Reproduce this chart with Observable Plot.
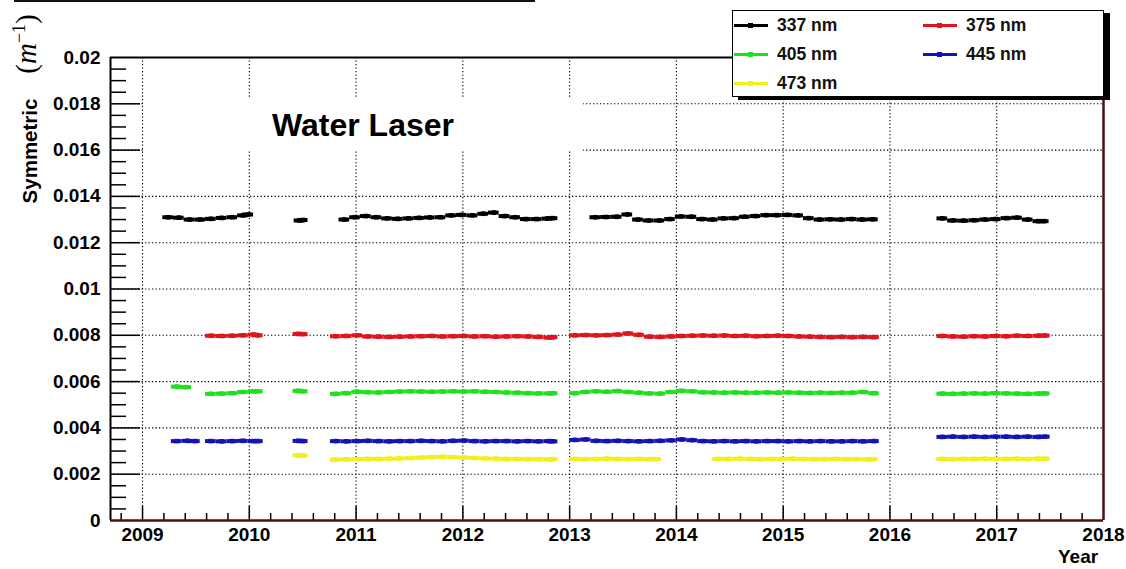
<!DOCTYPE html>
<html>
<head>
<meta charset="utf-8">
<script src="https://cdn.jsdelivr.net/npm/d3@7"></script>
<script src="https://cdn.jsdelivr.net/npm/@observablehq/plot@0.6"></script>
<style>
  body { margin: 0; background: #fff; }
  #wrap { position: relative; width: 1126px; height: 569px; overflow: hidden;
          font-family: "Liberation Sans", Arial, sans-serif; font-weight: bold; color: #000; }
  #wrap svg { position: absolute; left: 0; top: 0; }
  .abs { position: absolute; white-space: nowrap; }
  #topline { left: 14px; top: 0; width: 521px; height: 2px; background: #111; }
  #ytitle { left: 30px; top: 151px; font-size: 20.5px; transform: translate(-50%, -50%) rotate(-90deg); }
  #yunit { left: 26px; top: 44px; font-family: "Liberation Serif", "DejaVu Serif", serif; font-weight: normal;
           font-size: 29px; transform: translate(-50%, -50%) rotate(-90deg); }
  #yunit sup { font-size: 18px; font-style: normal; vertical-align: 11px; }
  #titlebox { left: 145px; top: 97px; width: 438px; height: 54px; background: #fff; }
  #title { left: 272px; top: 109px; font-size: 32px; line-height: 32px; }
  #xtitle { left: 1058px; top: 547px; font-size: 19px; line-height: 19px; }
  #legend { left: 732px; top: 10px; width: 372px; height: 87px; box-sizing: border-box;
            border: 1px solid #000; background: #fff; box-shadow: 6px 3px 0 #000; }
  .lg-line { position: absolute; width: 34px; height: 3px; }
  .lg-dot { position: absolute; width: 5px; height: 5px; left: 14px; top: -1px; }
  .lg-text { position: absolute; font-size: 17.5px; line-height: 18px; color: #111; }
</style>
</head>
<body>
<div id="wrap"></div>
<script>
// Water laser: symmetric scattering coefficient per wavelength, by year
const wavelengths = ["337 nm", "375 nm", "405 nm", "445 nm", "473 nm"];
const colors = ["#000000", "#e0141e", "#1fe01f", "#1414b4", "#f0f01e"];

// [decimal year, coefficient in 1/m]
const s337 = [
  [2009.24,0.01310],[2009.34,0.01308],[2009.44,0.01300],[2009.54,0.01300],[2009.64,0.01303],[2009.74,0.01307],[2009.84,0.01310],[2009.94,0.01318],[2009.99,0.01322],
  [2010.47,0.01296],[2010.50,0.01298],
  [2010.89,0.01300],[2010.99,0.01310],[2011.09,0.01315],[2011.19,0.01310],[2011.29,0.01305],[2011.39,0.01303],[2011.49,0.01305],[2011.59,0.01307],[2011.69,0.01309],[2011.79,0.01310],
  [2011.89,0.01318],[2011.99,0.01320],[2012.09,0.01318],[2012.19,0.01325],[2012.29,0.01330],[2012.39,0.01315],[2012.49,0.01310],[2012.59,0.01302],[2012.69,0.01302],[2012.79,0.01304],[2012.84,0.01306],
  [2013.24,0.01310],[2013.34,0.01311],[2013.44,0.01312],[2013.54,0.01322],[2013.64,0.01300],[2013.74,0.01296],[2013.84,0.01296],[2013.94,0.01302],[2014.04,0.01313],[2014.14,0.01312],
  [2014.24,0.01302],[2014.34,0.01300],[2014.44,0.01305],[2014.54,0.01306],[2014.64,0.01312],[2014.74,0.01315],[2014.84,0.01319],[2014.94,0.01319],[2015.04,0.01320],[2015.14,0.01318],
  [2015.24,0.01306],[2015.34,0.01300],[2015.44,0.01301],[2015.54,0.01300],[2015.64,0.01302],[2015.74,0.01300],[2015.84,0.01301],
  [2016.49,0.01305],[2016.59,0.01296],[2016.69,0.01295],[2016.79,0.01297],[2016.89,0.01300],[2016.99,0.01302],[2017.09,0.01306],[2017.19,0.01308],[2017.29,0.01300],[2017.39,0.01293],[2017.44,0.01293]
];

const s375 = [
  [2009.64,0.00798],[2009.74,0.00797],[2009.84,0.00798],[2009.94,0.00800],[2010.04,0.00803],[2010.08,0.00800],
  [2010.46,0.00806],[2010.50,0.00805],
  [2010.81,0.00796],[2010.91,0.00797],[2011.01,0.00800],[2011.11,0.00795],[2011.21,0.00794],[2011.31,0.00793],[2011.41,0.00794],[2011.51,0.00795],[2011.61,0.00796],[2011.71,0.00797],[2011.81,0.00795],
  [2011.91,0.00796],[2012.01,0.00797],[2012.11,0.00795],[2012.21,0.00796],[2012.31,0.00794],[2012.41,0.00795],[2012.51,0.00796],[2012.61,0.00795],[2012.71,0.00793],[2012.81,0.00790],[2012.84,0.00792],
  [2013.05,0.00800],[2013.15,0.00801],[2013.25,0.00800],[2013.35,0.00801],[2013.45,0.00803],[2013.55,0.00808],[2013.65,0.00802],[2013.75,0.00794],[2013.85,0.00793],[2013.95,0.00795],
  [2014.05,0.00797],[2014.15,0.00798],[2014.25,0.00799],[2014.35,0.00798],[2014.45,0.00799],[2014.55,0.00797],[2014.65,0.00798],[2014.75,0.00796],[2014.85,0.00797],[2014.95,0.00798],
  [2015.05,0.00797],[2015.15,0.00795],[2015.25,0.00794],[2015.35,0.00793],[2015.45,0.00792],[2015.55,0.00793],[2015.65,0.00792],[2015.75,0.00793],[2015.85,0.00792],
  [2016.49,0.00797],[2016.59,0.00795],[2016.69,0.00794],[2016.79,0.00796],[2016.89,0.00795],[2016.99,0.00797],[2017.09,0.00796],[2017.19,0.00798],[2017.29,0.00797],[2017.39,0.00798],[2017.45,0.00799]
];

const s405 = [
  [2009.32,0.00578],[2009.41,0.00576],
  [2009.64,0.00547],[2009.74,0.00548],[2009.84,0.00550],[2009.94,0.00555],[2010.04,0.00558],[2010.08,0.00558],
  [2010.46,0.00560],[2010.50,0.00558],
  [2010.81,0.00547],[2010.91,0.00550],[2011.01,0.00556],[2011.11,0.00554],[2011.21,0.00553],[2011.31,0.00555],[2011.41,0.00557],[2011.51,0.00558],[2011.61,0.00557],[2011.71,0.00556],[2011.81,0.00557],
  [2011.91,0.00558],[2012.01,0.00557],[2012.11,0.00558],[2012.21,0.00556],[2012.31,0.00555],[2012.41,0.00553],[2012.51,0.00552],[2012.61,0.00550],[2012.71,0.00549],[2012.81,0.00549],[2012.84,0.00550],
  [2013.05,0.00550],[2013.15,0.00555],[2013.25,0.00558],[2013.35,0.00556],[2013.45,0.00559],[2013.55,0.00555],[2013.65,0.00552],[2013.75,0.00549],[2013.85,0.00548],[2013.95,0.00555],
  [2014.05,0.00560],[2014.15,0.00558],[2014.25,0.00554],[2014.35,0.00553],[2014.45,0.00552],[2014.55,0.00553],[2014.65,0.00552],[2014.75,0.00552],[2014.85,0.00553],[2014.95,0.00552],
  [2015.05,0.00553],[2015.15,0.00552],[2015.25,0.00551],[2015.35,0.00552],[2015.45,0.00551],[2015.55,0.00552],[2015.65,0.00552],[2015.75,0.00555],[2015.85,0.00550],
  [2016.49,0.00548],[2016.59,0.00547],[2016.69,0.00548],[2016.79,0.00549],[2016.89,0.00548],[2016.99,0.00550],[2017.09,0.00549],[2017.19,0.00548],[2017.29,0.00547],[2017.39,0.00548],[2017.45,0.00549]
];

const s445 = [
  [2009.32,0.00343],[2009.42,0.00344],[2009.49,0.00343],
  [2009.64,0.00343],[2009.74,0.00342],[2009.84,0.00343],[2009.94,0.00344],[2010.04,0.00343],[2010.08,0.00343],
  [2010.46,0.00344],[2010.50,0.00343],
  [2010.81,0.00343],[2010.91,0.00342],[2011.01,0.00343],[2011.11,0.00344],[2011.21,0.00343],[2011.31,0.00342],[2011.41,0.00343],[2011.51,0.00343],[2011.61,0.00344],[2011.71,0.00343],[2011.81,0.00342],
  [2011.91,0.00344],[2012.01,0.00345],[2012.11,0.00343],[2012.21,0.00342],[2012.31,0.00343],[2012.41,0.00343],[2012.51,0.00342],[2012.61,0.00343],[2012.71,0.00342],[2012.81,0.00343],[2012.84,0.00342],
  [2013.05,0.00348],[2013.15,0.00350],[2013.25,0.00344],[2013.35,0.00343],[2013.45,0.00344],[2013.55,0.00343],[2013.65,0.00342],[2013.75,0.00343],[2013.85,0.00344],[2013.95,0.00346],
  [2014.05,0.00350],[2014.15,0.00347],[2014.25,0.00343],[2014.35,0.00342],[2014.45,0.00343],[2014.55,0.00342],[2014.65,0.00343],[2014.75,0.00342],[2014.85,0.00343],[2014.95,0.00343],
  [2015.05,0.00342],[2015.15,0.00343],[2015.25,0.00342],[2015.35,0.00343],[2015.45,0.00342],[2015.55,0.00342],[2015.65,0.00343],[2015.75,0.00342],[2015.85,0.00343],
  [2016.49,0.00361],[2016.59,0.00362],[2016.69,0.00361],[2016.79,0.00362],[2016.89,0.00361],[2016.99,0.00362],[2017.09,0.00362],[2017.19,0.00361],[2017.29,0.00362],[2017.39,0.00361],[2017.45,0.00362]
];

const s473 = [
  [2010.46,0.00282],[2010.50,0.00280],
  [2010.81,0.00263],[2010.91,0.00264],[2011.01,0.00265],[2011.11,0.00266],[2011.21,0.00266],[2011.31,0.00267],[2011.41,0.00268],[2011.51,0.00270],[2011.61,0.00272],[2011.71,0.00274],[2011.81,0.00275],
  [2011.91,0.00274],[2012.01,0.00272],[2012.11,0.00270],[2012.21,0.00268],[2012.31,0.00267],[2012.41,0.00266],[2012.51,0.00266],[2012.61,0.00265],[2012.71,0.00265],[2012.81,0.00264],[2012.84,0.00265],
  [2013.05,0.00266],[2013.15,0.00265],[2013.25,0.00266],[2013.35,0.00267],[2013.45,0.00266],[2013.55,0.00265],[2013.65,0.00266],[2013.75,0.00265],[2013.81,0.00265],
  [2014.39,0.00266],[2014.49,0.00266],[2014.59,0.00267],[2014.69,0.00266],[2014.79,0.00265],[2014.89,0.00266],[2014.99,0.00266],[2015.09,0.00267],[2015.19,0.00266],[2015.29,0.00265],
  [2015.39,0.00265],[2015.49,0.00266],[2015.59,0.00265],[2015.69,0.00265],[2015.79,0.00264],[2015.84,0.00265],
  [2016.49,0.00266],[2016.59,0.00265],[2016.69,0.00266],[2016.79,0.00266],[2016.89,0.00267],[2016.99,0.00266],[2017.09,0.00266],[2017.19,0.00267],[2017.29,0.00266],[2017.39,0.00267],[2017.45,0.00267]
];

const seriesPoints = [s337, s375, s405, s445, s473];

// axis ticks and labels
const xLabels = [2009, 2010, 2011, 2012, 2013, 2014, 2015, 2016, 2017, 2018];
const xGrid = [2009, 2010, 2011, 2012, 2013, 2014, 2015, 2016, 2017];
const yLabels = [0, 0.002, 0.004, 0.006, 0.008, 0.01, 0.012, 0.014, 0.016, 0.018, 0.02];
const yGrid = [0.002, 0.004, 0.006, 0.008, 0.01, 0.012, 0.014, 0.016, 0.018];

const rows = seriesPoints.flatMap((pts, i) =>
  pts.map(([t, v]) => ({series: wavelengths[i], t, v})));

const W = 1126, H = 569;
const mL = 110, mR = 23, mT = 57, mB = 49;
const plotW = W - mL - mR, plotH = H - mT - mB;
const xDomain = [2008.7, 2018];
const halfBin = 0.05;   // horizontal error bar half-width, years
const yErr = 0.00007;   // vertical error bar half-height

const xMinor = d3.range(0, 47).map(i => 2008.8 + i * 0.2)
  .filter(d => d < 2018 && Math.abs(d - Math.round(d)) > 0.01);
const yMinor = d3.range(0, 41).map(i => i * 0.0005)
  .filter(d => d > 0 && d < 0.02 && Math.abs(d / 0.002 - Math.round(d / 0.002)) > 0.01);

const frameDark = "#4a1010";
const dots = "1.3,2.2";

const chart = Plot.plot({
  width: W, height: H,
  marginLeft: mL, marginRight: mR, marginTop: mT, marginBottom: mB,
  x: {domain: xDomain, label: null},
  y: {domain: [0, 0.02], label: null},
  color: {domain: wavelengths, range: colors},
  style: {fontFamily: "'Liberation Sans', Arial, sans-serif", background: "transparent"},
  marks: [
    // dotted grid
    Plot.ruleX(xGrid, {x: d => d, stroke: "#000", strokeWidth: 1.1, strokeDasharray: dots}),
    Plot.ruleY(yGrid, {y: d => d, stroke: "#000", strokeWidth: 1.1, strokeDasharray: dots}),
    // inward ticks
    Plot.tickX(xGrid, {x: d => d, insetTop: plotH - 14, stroke: "#000", strokeWidth: 1.5}),
    Plot.tickX(xMinor, {x: d => d, insetTop: plotH - 7, stroke: "#000", strokeWidth: 1.5}),
    Plot.tickY(yGrid, {y: d => d, insetRight: plotW - 30, stroke: "#000", strokeWidth: 1.5}),
    Plot.tickY(yMinor, {y: d => d, insetRight: plotW - 16, stroke: "#000", strokeWidth: 1.5}),
    // measurements: horizontal and vertical error bars with square markers
    Plot.ruleY(rows, {y: "v", x1: d => d.t - halfBin, x2: d => d.t + halfBin, stroke: "series", strokeWidth: 4}),
    Plot.ruleX(rows, {x: "t", y1: d => d.v - yErr, y2: d => d.v + yErr, stroke: "series", strokeWidth: 1.8}),
    Plot.dot(rows, {x: "t", y: "v", symbol: "square", r: 2.6, fill: "series", stroke: "none"}),
    // frame
    Plot.ruleY([0.02], {stroke: "#000", strokeWidth: 2}),
    Plot.ruleX([xDomain[0]], {stroke: "#000", strokeWidth: 2}),
    Plot.ruleY([0], {stroke: frameDark, strokeWidth: 2.5}),
    Plot.ruleX([xDomain[1]], {stroke: frameDark, strokeWidth: 2.5}),
    // tick labels
    Plot.axisX(xLabels, {tickSize: 0, tickPadding: 7, fontSize: 19, fontWeight: "bold",
      tickFormat: d => String(d), label: null}),
    Plot.axisY(yLabels, {tickSize: 0, tickPadding: 10, fontSize: 19, fontWeight: "bold",
      tickFormat: d => String(d), label: null})
  ]
});

const wrap = document.getElementById("wrap");
wrap.appendChild(chart);

function addDiv(id, html) {
  const d = document.createElement("div");
  d.className = "abs";
  d.id = id;
  d.innerHTML = html;
  wrap.appendChild(d);
  return d;
}

addDiv("topline", "");
addDiv("ytitle", "Symmetric");
addDiv("yunit", "(<i>m</i><sup>\u22121</sup>)");
addDiv("titlebox", "");
addDiv("title", "Water Laser");
addDiv("xtitle", "Year");

// legend: two columns, filled row by row
const legend = addDiv("legend", "");
const rowCenter = [14, 43, 72];
const colX = [0, 189];
wavelengths.forEach((name, i) => {
  const r = Math.floor(i / 2), c = i % 2;
  const line = document.createElement("div");
  line.className = "lg-line";
  line.style.left = (colX[c] + 1) + "px";
  line.style.top = (rowCenter[r] - 1.5) + "px";
  line.style.background = colors[i];
  const dot = document.createElement("div");
  dot.className = "lg-dot";
  dot.style.background = colors[i];
  line.appendChild(dot);
  legend.appendChild(line);
  const txt = document.createElement("div");
  txt.className = "lg-text";
  txt.style.left = (colX[c] + 44) + "px";
  txt.style.top = (rowCenter[r] - 9) + "px";
  txt.textContent = name;
  legend.appendChild(txt);
});
</script>
</body>
</html>
